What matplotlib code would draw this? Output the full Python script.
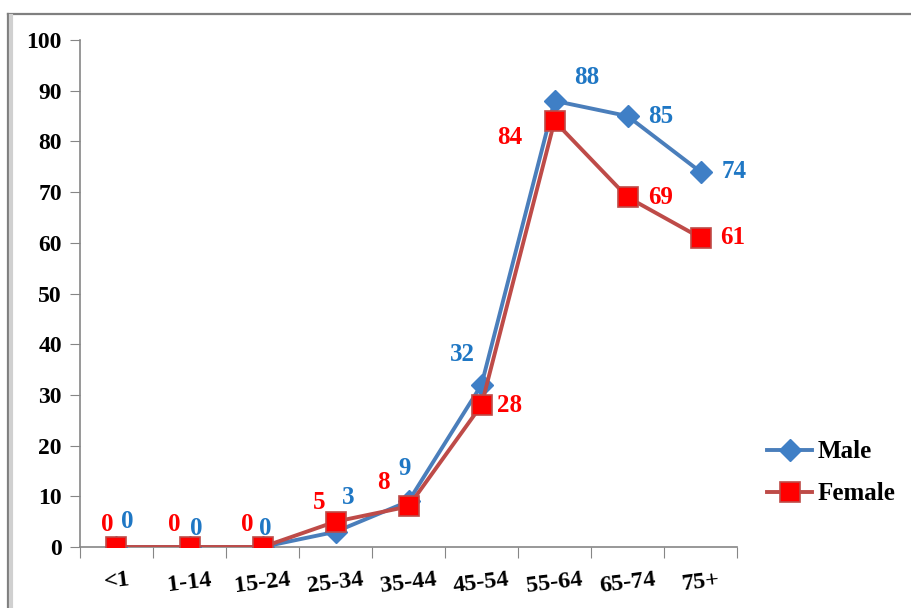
import matplotlib
matplotlib.use('Agg')
import matplotlib.pyplot as plt
from matplotlib.lines import Line2D

# ── data ──────────────────────────────────────────────────────────────────────
age_groups = ["<1", "1-14", "15-24", "25-34", "35-44", "45-54", "55-64", "65-74", "75+"]
male = [0, 0, 0, 3, 9, 32, 88, 85, 74]
female = [0, 0, 0, 5, 8, 28, 84, 69, 61]

# label offsets in points (dx, dy) per point
male_off = [(8, 18), (5, 13), (2, 13), (9, 25), (-3, 24), (-14, 22), (23, 17), (24, 0), (24, 0)]
female_off = [(-7, 16), (-11, 16), (-11, 16), (-12, 14), (-18, 17), (20, 0), (-32, -12), (24, 0), (23, 0)]

plt.rcParams['font.family'] = ['Liberation Serif', 'DejaVu Serif']

BLUE_LINE = '#4A7EBB'
BLUE_MK = '#3F7FC6'
BLUE_TXT = '#1F77C4'
RED_LINE = '#BE4B48'
RED_MK = '#FF0000'

fig = plt.figure(figsize=(9.12, 6.08), dpi=100)
ax = fig.add_axes([80 / 912, 1 - 547 / 608, (737 - 80) / 912, (547 - 40) / 608])

x = list(range(len(age_groups)))
ax.plot(x, male, color=BLUE_LINE, lw=2.8, marker='D', ms=11,
        mfc=BLUE_MK, mec=BLUE_MK, label='Male', zorder=3)
ax.plot(x, female, color=RED_LINE, lw=2.8, marker='s', ms=15,
        mfc=RED_MK, mec=RED_LINE, mew=1.2, label='Female', zorder=4)

for xi, v, (dx, dy) in zip(x, male, male_off):
    ax.annotate(str(v), (xi, v), xytext=(dx, dy), textcoords='offset points',
                ha='center', va='center', fontsize=18, fontweight='bold', color=BLUE_TXT)
for xi, v, (dx, dy) in zip(x, female, female_off):
    ax.annotate(str(v), (xi, v), xytext=(dx, dy), textcoords='offset points',
                ha='center', va='center', fontsize=18, fontweight='bold', color=RED_MK)

ax.set_xlim(-0.5, len(age_groups) - 0.5)
ax.set_ylim(0, 100)
ax.set_yticks(range(0, 101, 10))
ax.tick_params(axis='y', length=7, color='#868686', labelsize=17, pad=6)
for lab in ax.get_yticklabels():
    lab.set_fontweight('bold')

# category boundaries as ticks, labels at centres
ax.set_xticks([i - 0.5 for i in range(len(age_groups) + 1)])
ax.set_xticklabels([])
ax.tick_params(axis='x', which='major', length=8, color='#868686')
ax.set_xticks(x, minor=True)
ax.set_xticklabels(age_groups, minor=True, rotation=7, fontsize=17.5, fontweight='bold')
ax.tick_params(axis='x', which='minor', length=0, pad=16)

for s in ['top', 'right']:
    ax.spines[s].set_visible(False)
for s in ['left', 'bottom']:
    ax.spines[s].set_color('#868686')
    ax.spines[s].set_linewidth(1.2)

leg = fig.legend(loc='upper left', bbox_to_anchor=(745 / 912, 1 - 418 / 608),
                 frameon=False, prop={'size': 18, 'weight': 'bold'},
                 handlelength=1.8, labelspacing=0.75, handletextpad=0.2)

# outer chart border (Excel chart area frame)
fig.add_artist(Line2D([8 / 912, 1], [1 - 14 / 608] * 2, color='#7f7f7f', lw=1.6))
fig.add_artist(Line2D([8 / 912] * 2, [0, 1 - 14 / 608], color='#7f7f7f', lw=1.6))
fig.add_artist(Line2D([11 / 912] * 2, [0, 1 - 16 / 608], color='#d0d0d0', lw=3))

fig.savefig('out.png', dpi=100)
